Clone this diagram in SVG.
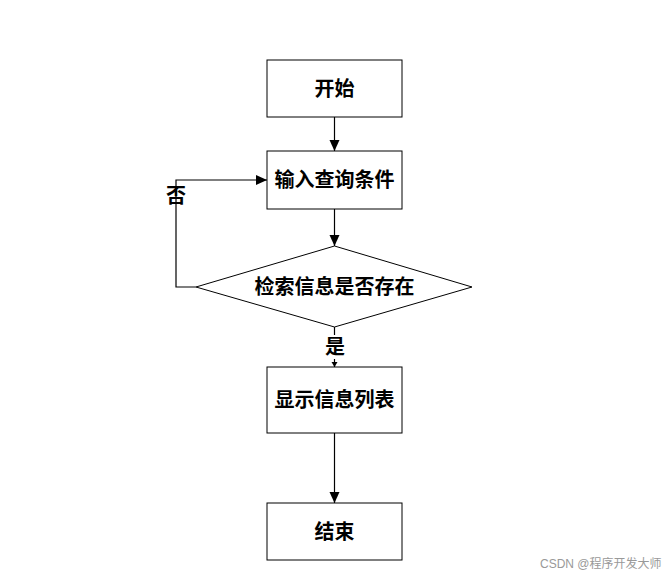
<svg xmlns="http://www.w3.org/2000/svg" width="668" height="578" viewBox="0 0 668 578">
<defs>
<style>
.box{fill:#fff;stroke:#000;stroke-width:1}
.ln{fill:none;stroke:#000;stroke-width:1.2}
.t{font-family:"Liberation Serif","Noto Sans CJK SC",serif;font-size:20px;font-weight:bold;fill:#000;text-anchor:middle;dominant-baseline:central}
.wm{font-family:"Liberation Sans","Noto Sans CJK SC",sans-serif;font-size:12px;fill:#999}
</style>
<marker id="ah" markerWidth="12" markerHeight="12" refX="11" refY="5" orient="auto" markerUnits="userSpaceOnUse"><path d="M0,0 L11,5 L0,10 Z" fill="#000"/></marker>
<marker id="ahs" markerWidth="8" markerHeight="8" refX="5" refY="3" orient="auto" markerUnits="userSpaceOnUse"><path d="M0,0 L5,3 L0,6 Z" fill="#000"/></marker>
</defs>
<rect width="668" height="578" fill="#fff"/>
<g id="connectors">
<line class="ln" x1="334.5" y1="117" x2="334.5" y2="151" marker-end="url(#ah)"/>
<line class="ln" x1="334.5" y1="209" x2="334.5" y2="246" marker-end="url(#ah)"/>
<polyline class="ln" points="196,287 176,287 176,180 267,180" marker-end="url(#ah)"/>
<line class="ln" x1="334.5" y1="327" x2="334.5" y2="335"/>
<line class="ln" x1="334.5" y1="359" x2="334.5" y2="367" marker-end="url(#ahs)"/>
<line class="ln" x1="334.5" y1="433" x2="334.5" y2="503" marker-end="url(#ah)"/>
<text class="t" x="176" y="196">否</text>
<text class="t" x="335" y="347">是</text>
</g>
<g id="start"><rect class="box" x="267" y="60" width="135" height="57"/><text class="t" x="334.5" y="88.5">开始</text></g>
<g id="input"><rect class="box" x="267" y="151" width="135" height="58"/><text class="t" x="334.5" y="180">输入查询条件</text></g>
<g id="decision"><polygon class="box" points="334.5,246 472,287 334.5,327 196,287"/><text class="t" x="334.5" y="287">检索信息是否存在</text></g>
<g id="show"><rect class="box" x="267" y="367" width="135" height="66"/><text class="t" x="334.5" y="400">显示信息列表</text></g>
<g id="end"><rect class="box" x="267" y="503" width="135" height="57"/><text class="t" x="334.5" y="531.5">结束</text></g>
<text class="wm" x="540" y="568">CSDN @程序开发大师</text>
</svg>
